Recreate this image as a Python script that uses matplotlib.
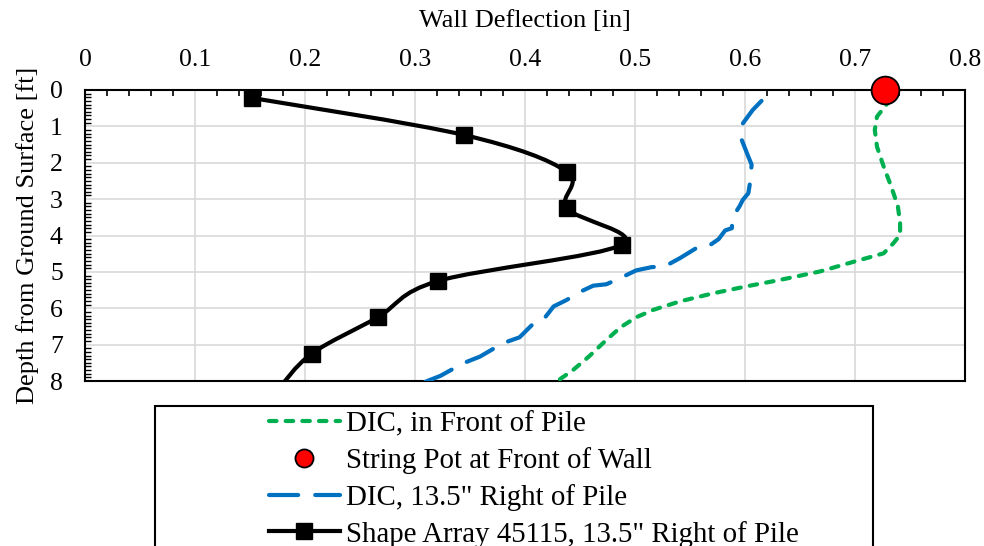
import numpy as np
import matplotlib
matplotlib.use('Agg')
import matplotlib.pyplot as plt
from matplotlib.path import Path
from matplotlib.patches import PathPatch, Rectangle
from matplotlib.lines import Line2D
from matplotlib.ticker import MultipleLocator

plt.rcParams['font.family'] = ['Liberation Serif', 'DejaVu Serif']

# DIC, in front of pile (deflection [in], depth [ft])
dic_front_x = [0.733, 0.730, 0.720, 0.718, 0.720, 0.726, 0.733, 0.739, 0.741, 0.741,
               0.735, 0.726, 0.699, 0.668, 0.632, 0.601, 0.571, 0.541, 0.517, 0.501,
               0.487, 0.474, 0.458, 0.444, 0.429]
dic_front_y = [0.25, 0.35, 0.73, 1.10, 1.56, 2.10, 2.66, 3.20, 3.66, 3.98,
               4.21, 4.49, 4.72, 4.99, 5.22, 5.40, 5.59, 5.81, 6.04, 6.25,
               6.52, 6.87, 7.33, 7.69, 8.01]

# string pot at front of wall
pot_x = [0.727]
pot_y = [0.0]

# DIC, 13.5" right of pile
dic_right_x = [0.615, 0.607, 0.598, 0.597, 0.603, 0.606, 0.605, 0.603, 0.598, 0.595,
               0.589, 0.588, 0.582, 0.576, 0.565, 0.555, 0.541, 0.527, 0.515, 0.501,
               0.488, 0.474, 0.462, 0.450, 0.438, 0.426, 0.417, 0.408, 0.395, 0.380,
               0.359, 0.344, 0.323, 0.307]
dic_right_y = [0.30, 0.55, 0.92, 1.37, 1.83, 2.05, 2.47, 2.84, 3.02, 3.20,
               3.48, 3.80, 3.86, 4.10, 4.33, 4.36, 4.62, 4.85, 4.87, 4.96,
               5.15, 5.34, 5.38, 5.55, 5.77, 5.95, 6.30, 6.41, 6.80, 6.96,
               7.33, 7.51, 7.86, 8.05]

# shape array 45115
sa_x = [0.152, 0.345, 0.438, 0.438, 0.488, 0.321, 0.266, 0.206, 0.175]
sa_y = [0.22, 1.24, 2.25, 3.25, 4.25, 5.25, 6.25, 7.25, 8.25]

labels = ['DIC, in Front of Pile', 'String Pot at Front of Wall',
          'DIC, 13.5" Right of Pile', 'Shape Array 45115, 13.5" Right of Pile']

GREEN = '#00b050'
BLUE = '#0070c0'


def smooth_path(xs, ys):
    # excel style smoothed line (cubic bezier through the points)
    p = np.column_stack([xs, ys])
    n = len(p)
    verts = [p[0]]
    codes = [Path.MOVETO]
    for i in range(n - 1):
        p0 = p[i - 1] if i > 0 else p[i]
        p3 = p[i + 2] if i + 2 < n else p[i + 1]
        c1 = p[i] + (p[i + 1] - p0) / 6.0
        c2 = p[i + 1] - (p3 - p[i]) / 6.0
        verts += [c1, c2, p[i + 1]]
        codes += [Path.CURVE4] * 3
    return Path(verts, codes)


fig = plt.figure(figsize=(9.84, 5.46), dpi=100)
ax = fig.add_axes([85 / 984, 1 - 381 / 546, 880 / 984, 291 / 546])

l_front, = ax.plot(dic_front_x, dic_front_y, color=GREEN, lw=3,
                   dashes=(1.8, 2.2), dash_capstyle='round', zorder=3)
l_right, = ax.plot(dic_right_x, dic_right_y, color=BLUE, lw=3,
                   dashes=(7.0, 4.1), dash_capstyle='round', zorder=3)
ax.add_patch(PathPatch(smooth_path(sa_x, sa_y), fill=False, ec='black', lw=3, zorder=4))
ax.plot(sa_x, sa_y, 's', color='black', ms=11, ls='none', zorder=4)
ax.plot(pot_x, pot_y, 'o', ms=20, mfc='red', mec='black', mew=1.3,
        clip_on=False, zorder=6)

ax.set_xlim(0, 0.8)
ax.set_ylim(8, 0)
ax.xaxis.tick_top()
ax.xaxis.set_label_position('top')
ax.xaxis.set_minor_locator(MultipleLocator(0.02))
ax.yaxis.set_major_locator(MultipleLocator(1))
ax.yaxis.set_minor_locator(MultipleLocator(0.1))
ax.set_xticks(np.arange(0, 0.81, 0.1))
ax.set_xticklabels(['0', '0.1', '0.2', '0.3', '0.4', '0.5', '0.6', '0.7', '0.8'])

ax.tick_params(which='major', length=0, labelsize=18.5)
ax.tick_params(axis='x', which='major', pad=13.5)
ax.tick_params(axis='y', which='major', pad=16)
ax.tick_params(axis='x', which='minor', direction='in', top=True, bottom=False,
               length=4, width=1.2)
ax.tick_params(axis='y', which='minor', direction='in', left=True, right=False,
               length=4, width=1.0)
ax.grid(True, which='major', color='#d9d9d9', lw=1.2, zorder=0)
ax.set_axisbelow(True)
for s in ax.spines.values():
    s.set_linewidth(1.5)
    s.set_color('black')

ax.set_xlabel('Wall Deflection [in]', fontsize=19, labelpad=16)
ax.set_ylabel('Depth from Ground Surface [ft]', fontsize=19, labelpad=8)

handles = [
    l_front,
    Line2D([], [], ls='none', marker='o', ms=13, mfc='red', mec='black', mew=1.3),
    l_right,
    Line2D([], [], color='black', lw=3, marker='s', ms=11),
]
fig.legend(handles, labels, loc='upper left', bbox_to_anchor=(269 / 984, 1 - 411 / 546),
           bbox_transform=fig.transFigure, frameon=False, fontsize=20.8,
           handlelength=2.45, handletextpad=0.2, borderpad=0, borderaxespad=0,
           labelspacing=0.34, numpoints=1)
fig.add_artist(Rectangle((155 / 984, -0.05), (873 - 155) / 984, 0.05 + 1 - 406 / 546,
                         transform=fig.transFigure, fill=False, ec='black', lw=1.5))

fig.savefig('out.png', dpi=100)
